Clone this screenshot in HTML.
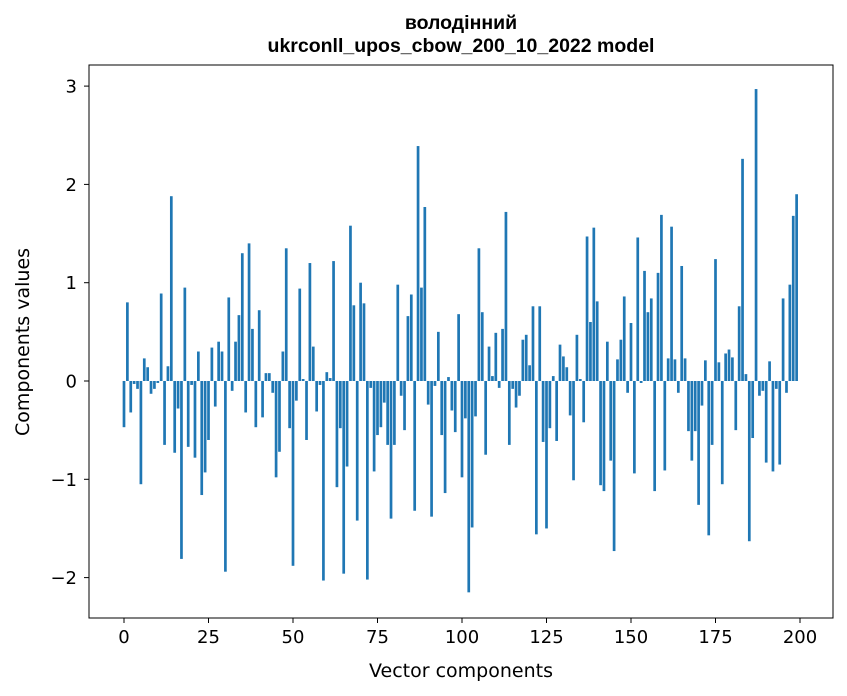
<!DOCTYPE html>
<html><head><meta charset="utf-8"><style>
body{margin:0;background:#fff;font-family:"DejaVu Sans","Liberation Sans",sans-serif;}
svg{display:block}
</style></head><body>
<svg id="chart" width="847" height="696">
<text x="461" y="29" text-anchor="middle" font-size="19.5" font-weight="bold" font-family="Liberation Sans, sans-serif">володінний</text>
<text x="461" y="52" text-anchor="middle" font-size="19.5" font-weight="bold" font-family="Liberation Sans, sans-serif">ukrconll_upos_cbow_200_10_2022 model</text>
<g id="bars"></g>
<rect x="89" y="65" width="744" height="553" fill="none" stroke="#000" stroke-width="1"/>
<g id="xticks"></g>
<g id="yticks"></g>
<text x="461" y="677" text-anchor="middle" font-size="19">Vector components</text>
<text transform="translate(29,342) rotate(-90)" text-anchor="middle" font-size="19">Components values</text>
</svg>
<script>
const values=[-0.47,0.80,-0.32,-0.03,-0.08,-1.05,0.23,0.14,-0.13,-0.08,-0.02,0.89,-0.65,0.15,1.88,-0.73,-0.28,-1.81,0.95,-0.67,-0.04,-0.78,0.30,-1.16,-0.93,-0.60,0.34,-0.26,0.40,0.30,-1.94,0.85,-0.10,0.40,0.67,1.30,-0.32,1.40,0.53,-0.47,0.72,-0.37,0.08,0.08,-0.12,-0.98,-0.72,0.30,1.35,-0.48,-1.88,-0.20,0.94,0.02,-0.60,1.20,0.35,-0.31,-0.04,-2.03,0.09,0.03,1.22,-1.08,-0.48,-1.96,-0.87,1.58,0.77,-1.42,1.00,0.79,-2.02,-0.07,-0.92,-0.55,-0.47,-0.22,-0.65,-1.40,-0.65,0.98,-0.15,-0.50,0.66,0.88,-1.32,2.39,0.95,1.77,-0.24,-1.38,-0.05,0.50,-0.55,-1.14,0.04,-0.30,-0.52,0.68,-0.98,-0.38,-2.15,-1.49,-0.36,1.35,0.70,-0.75,0.35,0.05,0.49,-0.07,0.53,1.72,-0.65,-0.08,-0.27,-0.15,0.42,0.47,0.16,0.76,-1.56,0.76,-0.62,-1.50,-0.48,0.05,-0.61,0.37,0.25,0.14,-0.35,-1.01,0.47,0.02,-0.42,1.47,0.60,1.56,0.81,-1.06,-1.12,0.40,-0.81,-1.73,0.22,0.42,0.86,-0.12,0.59,-0.94,1.46,-0.02,1.12,0.70,0.84,-1.12,1.10,1.69,-0.91,0.23,1.57,0.22,-0.12,1.17,0.23,-0.51,-0.81,-0.51,-1.26,-0.25,0.21,-1.57,-0.65,1.24,0.19,-1.05,0.28,0.32,0.24,-0.50,0.76,2.26,0.07,-1.63,-0.58,2.97,-0.15,-0.10,-0.83,0.20,-0.92,-0.08,-0.85,0.84,-0.12,0.98,1.68,1.90];
const xTickLabels=[0,25,50,75,100,125,150,175,200];
const yTickLabels=[-2,-1,0,1,2,3];
const NS="http://www.w3.org/2000/svg";
const xs=v=>124+v*3.38;
const ys=v=>381-v*98.3;
const bars=document.getElementById('bars');
values.forEach((v,i)=>{
 const r=document.createElementNS(NS,'rect');
 
 
 r.setAttribute('x',xs(i-0.4));
 r.setAttribute('width',3.38*0.8);
 r.setAttribute('y',Math.min(ys(v),ys(0)));
 r.setAttribute('height',Math.abs(ys(v)-ys(0)));
 r.setAttribute('fill','#1f77b4');
 bars.appendChild(r);
});
const xg=document.getElementById('xticks');
xTickLabels.forEach(t=>{
 const l=document.createElementNS(NS,'line');
 
 
 l.setAttribute('x1',xs(t));l.setAttribute('x2',xs(t));l.setAttribute('y1',618);l.setAttribute('y2',623);l.setAttribute('stroke','#000');
 xg.appendChild(l);
 const tx=document.createElementNS(NS,'text');
 
 
 tx.setAttribute('x',xs(t));tx.setAttribute('y',643);tx.setAttribute('text-anchor','middle');tx.setAttribute('font-size','18');
 tx.textContent=t;xg.appendChild(tx);
});
const yg=document.getElementById('yticks');
yTickLabels.forEach(t=>{
 const l=document.createElementNS(NS,'line');
 
 
 l.setAttribute('x1',84);l.setAttribute('x2',89);l.setAttribute('y1',ys(t));l.setAttribute('y2',ys(t));l.setAttribute('stroke','#000');
 yg.appendChild(l);
 const tx=document.createElementNS(NS,'text');
 
 
 tx.setAttribute('x',77);tx.setAttribute('y',ys(t)+6.5);tx.setAttribute('text-anchor','end');tx.setAttribute('font-size','18');
 tx.textContent=t<0?'\u2212'+Math.abs(t):t;yg.appendChild(tx);
});
</script>
</body></html>
